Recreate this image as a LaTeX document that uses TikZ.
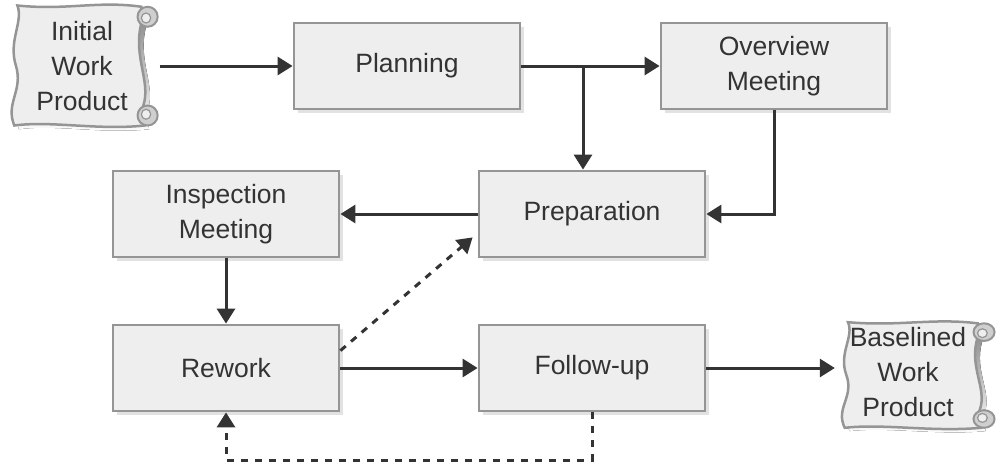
\documentclass[tikz,border=0pt]{standalone}
\usepackage{fontspec}
\setmainfont{Liberation Sans}
\usetikzlibrary{arrows.meta,shadows,calc}
\definecolor{boxfill}{HTML}{EEEEEE}
\definecolor{boxline}{HTML}{959595}
\definecolor{ink}{HTML}{333333}
\definecolor{shade}{HTML}{E2E2E2}
\definecolor{curl}{HTML}{CFCFCF}
\tikzset{
  procbox/.style={draw=boxline, fill=boxfill, line width=2.8pt, minimum width=226pt,
    minimum height=86pt, align=center, text=ink, font=\fontsize{26.5}{35}\selectfont,
    drop shadow={shadow xshift=4pt, shadow yshift=-4pt, fill=shade, opacity=1}},
  scrolltext/.style={inner sep=0pt, align=center, text=ink, font=\fontsize{26.5}{35}\selectfont},
  conn/.style={draw=ink, line width=3pt, -{Triangle[length=15pt,width=18pt]}},
  dashconn/.style={conn, dash pattern=on 7pt off 7pt}
}
\newcommand{\myscroll}[4]{%
  \begin{scope}[shift={(#1,#2)}, xscale=#3, yscale=#4]
    \fill[shade, shift={(3,3)}] (8,2) .. controls (40,6) and (60,-2) .. (88,3)
      -- (88,16) .. controls (82,45) and (96,65) .. (88,86)
      -- (90,98) .. controls (60,102) and (30,94) .. (6,98)
      .. controls (0,80) and (12,70) .. (7,50) .. controls (2,30) and (12,15) .. (8,2) -- cycle;
    \filldraw[fill=boxfill, draw=boxline, line width=2.5pt]
      (8,2) .. controls (40,6) and (60,-2) .. (88,3)
      -- (88,16) .. controls (82,45) and (96,65) .. (88,86)
      -- (90,98) .. controls (60,102) and (30,94) .. (6,98)
      .. controls (0,80) and (12,70) .. (7,50) .. controls (2,30) and (12,15) .. (8,2) -- cycle;
    \filldraw[fill=curl, draw=boxline, line width=2pt] (92,11) ellipse [x radius=6.5, y radius=8];
    \filldraw[fill=boxfill, draw=boxline, line width=1.2pt] (91,12) ellipse [x radius=3, y radius=4];
    \filldraw[fill=curl, draw=boxline, line width=2pt] (92,90) ellipse [x radius=6.5, y radius=8];
    \filldraw[fill=boxfill, draw=boxline, line width=1.2pt] (91,89) ellipse [x radius=3, y radius=4];
  \end{scope}}
\begin{document}
\begin{tikzpicture}[x=1pt, y=-1pt]
  \useasboundingbox (0,0) rectangle (1005,464);
  \myscroll{5}{3}{1.55}{1.25}
  \myscroll{835}{320}{1.62}{1.1}
  \node[scrolltext, minimum width=155pt, minimum height=125pt] (iwp) at (82,66) {Initial\\Work\\Product};
  \node[scrolltext, minimum width=146pt, minimum height=110pt] (bwp) at (908,372) {Baselined\\Work\\Product};
  \node[procbox] (plan) at (407,66) {Planning};
  \node[procbox] (ov) at (774,66) {Overview\\Meeting};
  \node[procbox] (insp) at (226,214) {Inspection\\Meeting};
  \node[procbox] (prep) at (592,214) {Preparation};
  \node[procbox] (rw) at (226,368) {Rework};
  \node[procbox] (fu) at (592,368) {Follow-up};
  \coordinate (br) at (583,66);
  \coordinate (lp) at (592,460);
  \draw[conn] (iwp.east) -- (plan.west);
  \draw[conn] (plan.east) -- (ov.west);
  \draw[conn] (br) -- (br |- prep.north);
  \draw[conn] (ov.south) |- (prep.east);
  \draw[conn] (prep.west) -- (insp.east);
  \draw[conn] (insp.south) -- (rw.north);
  \draw[conn] (rw.east) -- (fu.west);
  \draw[conn] (fu.east) -- (fu.east -| bwp.west);
  \draw[dashconn] ($(rw.north east)+(0,27)$) -- ($(prep.south west)+(-5,-21)$);
  \draw[dashconn] (fu.south) -- (lp) -| (rw.south);
\end{tikzpicture}
\end{document}
